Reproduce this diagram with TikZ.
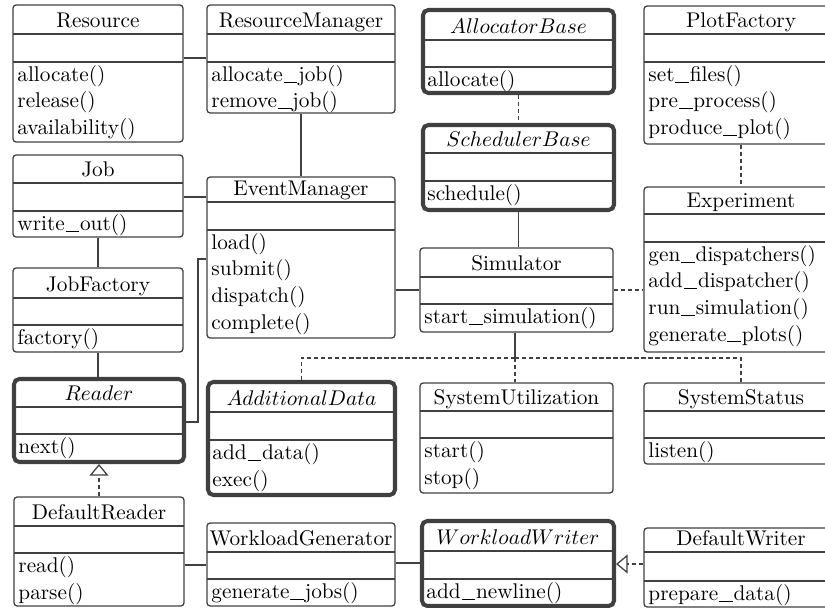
\documentclass[tikz,border=0pt]{standalone}
\usetikzlibrary{fit,calc,arrows.meta}
\definecolor{linec}{HTML}{404040}
\newcommand\us{\kern0.4pt\rule[-0.6pt]{6.4pt}{0.4pt}\kern0.4pt}
\tikzset{
  cls/.style={draw=linec, line width=0.6pt, rounded corners=1.5pt, inner sep=0pt},
  abscls/.style={cls, line width=1.9pt, rounded corners=2.5pt},
  sepline/.style={draw=linec, line width=0.6pt},
  ttl/.style={inner sep=0pt, anchor=base},
  mtd/.style={inner sep=0pt, anchor=base west},
  assoc/.style={draw=linec, line width=0.6pt},
  dep/.style={assoc, dash pattern=on 2pt off 1.3pt},
  realize/.style={dep, -{Triangle[open, length=5.5pt, width=9pt, line width=0.6pt]}},
}
% #1 style, #2 name, #3 x1, #4 y1, #5 x2, #6 y2, #7 title line, #8 empty line, #9 title
\newcommand\umlclass[9]{%
  \node[#1, fit={(#3,#4) (#5,#6)}] (#2) {};
  \draw[sepline] (#3,#7) -- (#5,#7) (#3,#8) -- (#5,#8);
  \node[ttl] (#2-title) at ($({(#3+#5)/2},#7)+(0,-6.5)$) {#9};
  \coordinate (#2-m) at (#3,#8);
}
% #1 name, #2 list of methods
\newcommand\umlops[2]{%
  \foreach \m [count=\i] in {#2}
    \node[mtd] (#1-op\i) at ($(#1-m)+(4,{19.5+26.5*(\i-1)})$) {\m};
}
\begin{document}
\begin{tikzpicture}[x=0.47pt, y=-0.47pt]
\useasboundingbox (0,0) rectangle (825,608);
\clip (0,0) rectangle (825,608);

% column 1
\umlclass{cls}{Resource}{13}{5}{183}{142}{34}{62}{Resource}
\umlops{Resource}{allocate(),release(),availability()}
\umlclass{cls}{Job}{13}{155}{183}{237}{183}{211}{Job}
\umlops{Job}{write\us out()}
\umlclass{cls}{JobFactory}{13}{268}{183}{352}{298}{325}{JobFactory}
\umlops{JobFactory}{factory()}
\umlclass{abscls}{Reader}{14}{379}{184}{462}{407}{434}{$Reader$}
\umlops{Reader}{next()}
\umlclass{cls}{DefaultReader}{14}{497}{184}{606}{526}{553}{DefaultReader}
\umlops{DefaultReader}{read(),parse()}

% column 2
\umlclass{cls}{ResourceManager}{207}{5}{395}{113}{34}{62}{ResourceManager}
\umlops{ResourceManager}{allocate\us job(),remove\us job()}
\umlclass{cls}{EventManager}{207}{177}{395}{338}{202}{230}{EventManager}
\umlops{EventManager}{load(),submit(),dispatch(),complete()}
\umlclass{abscls}{AdditionalData}{208}{382}{395}{495}{412}{440}{$AdditionalData$}
\umlops{AdditionalData}{add\us data(),exec()}
\umlclass{cls}{WorkloadGenerator}{207}{523}{395}{606}{552}{579}{WorkloadGenerator}
\umlops{WorkloadGenerator}{generate\us jobs()}

% column 3
\umlclass{abscls}{AllocatorBase}{423}{10}{614}{93}{40}{67}{$AllocatorBase$}
\umlops{AllocatorBase}{allocate()}
\umlclass{abscls}{SchedulerBase}{423}{125}{614}{210}{153}{181}{$SchedulerBase$}
\umlops{SchedulerBase}{schedule()}
\umlclass{cls}{Simulator}{420}{248}{613}{332}{277}{304}{Simulator}
\umlops{Simulator}{start\us simulation()}
\umlclass{cls}{SystemUtilization}{420}{383}{613}{493}{411}{438}{SystemUtilization}
\umlops{SystemUtilization}{start(),stop()}
\umlclass{abscls}{WorkloadWriter}{422}{521}{614}{606}{551}{579}{$WorkloadWriter$}
\umlops{WorkloadWriter}{add\us newline()}

% column 4
\umlclass{cls}{PlotFactory}{644}{6}{838}{144}{34}{62}{PlotFactory}
\umlops{PlotFactory}{set\us files(),pre\us process(),produce\us plot()}
\umlclass{cls}{Experiment}{644}{187}{838}{352}{214}{242}{Experiment}
\umlops{Experiment}{gen\us dispatchers(),add\us dispatcher(),run\us simulation(),generate\us plots()}
\umlclass{cls}{SystemStatus}{644}{383}{838}{464}{411}{438}{SystemStatus}
\umlops{SystemStatus}{listen()}
\umlclass{cls}{DefaultWriter}{644}{528}{838}{607}{552}{581}{DefaultWriter}
\umlops{DefaultWriter}{prepare\us data()}

% connectors
\draw[assoc] (Resource.east |- {(0,58)}) -- (ResourceManager.west |- {(0,58)});
\draw[assoc] (ResourceManager.south) -- (EventManager.north);
\draw[assoc] (Job.east |- {(0,197)}) -- (EventManager.west |- {(0,197)});
\draw[assoc] (Job.south) -- (JobFactory.north -| Job.south);
\draw[assoc] (JobFactory.south) -- (Reader.north -| JobFactory.south);
\draw[assoc] (Reader.east |- {(0,422)}) -| (198,259) -- (EventManager.west |- {(0,259)});
\draw[assoc] (EventManager.east |- Simulator.west) -- (Simulator.west);
\draw[dep] (AllocatorBase.south) -- (SchedulerBase.north);
\draw[assoc] (SchedulerBase.south) -- (SchedulerBase.south |- Simulator.north);
\draw[dep] (PlotFactory.south) -- (Experiment.north);
\draw[dep] (Simulator.east) -- (Simulator.east -| Experiment.west);
\coordinate (junction) at (515,358);
\draw[assoc] (Simulator.south -| junction) -- (junction);
\draw[dep] (junction) -| (AdditionalData.north);
\draw[dep] (junction) -- (SystemUtilization.north -| junction);
\draw[dep] (junction) -| (SystemStatus.north);
\draw[realize] (DefaultReader.north -| Reader.south) -- (Reader.south);
\draw[assoc] (DefaultReader.east |- {(0,565)}) -- (WorkloadGenerator.west |- {(0,565)});
\draw[assoc] (WorkloadGenerator.east |- {(0,563)}) -- (WorkloadWriter.west |- {(0,563)});
\draw[realize] (DefaultWriter.west |- {(0,564)}) -- (WorkloadWriter.east |- {(0,564)});
\end{tikzpicture}
\end{document}
